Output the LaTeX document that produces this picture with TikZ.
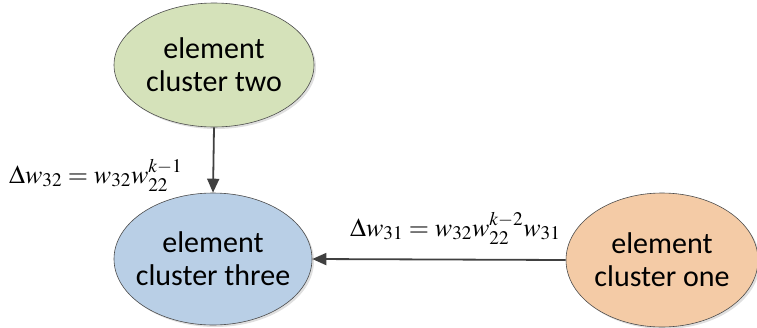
\documentclass[tikz,border=0pt]{standalone}
\usepackage{fontspec}
\usepackage{mathptmx}
\setmainfont{Carlito}
\usetikzlibrary{arrows.meta,shadows,shapes.geometric}
\definecolor{cgreen}{HTML}{D5E2BA}
\definecolor{cblue}{HTML}{B9CFE6}
\definecolor{corange}{HTML}{F4CBA6}
\definecolor{cline}{HTML}{404040}
\tikzset{
  cluster/.style={ellipse, draw=black!70, line width=0.6pt, inner sep=0pt,
    drop shadow={opacity=0.25, shadow xshift=2pt, shadow yshift=-2pt}},
  ctext/.style={align=center, font=\fontsize{30}{33}\selectfont, inner sep=0pt},
  conn/.style={draw=cline, line width=1.8pt, -{Triangle[length=14pt,width=12pt]}},
  lbl/.style={font=\fontsize{26}{30}\selectfont, inner sep=0pt}
}
\begin{document}
\begin{tikzpicture}[x=1pt,y=-1pt]
\useasboundingbox (0,0) rectangle (757,327);
\node[cluster, fill=cgreen, minimum width=200pt, minimum height=124pt,
  label={[ctext]center:element\\cluster two}] (two) at (214,65) {};
\node[cluster, fill=cblue, minimum width=198pt, minimum height=132pt,
  label={[ctext]center:element\\cluster three}] (three) at (213,259) {};
\node[cluster, fill=corange, minimum width=192pt, minimum height=134pt,
  label={[ctext]center:element\\cluster one}] (one) at (662,260) {};
\draw[conn] (two.south) -- (three.north);
\draw[conn] (one.west) -- (three.east);
\node[lbl, anchor=base west] (l1) at (9,183) {$\Delta w_{32}=w_{32}w_{22}^{k-1}$};
\node[lbl, anchor=base west] (l2) at (350,236) {$\Delta w_{31}=w_{32}w_{22}^{k-2}w_{31}$};
\end{tikzpicture}
\end{document}
